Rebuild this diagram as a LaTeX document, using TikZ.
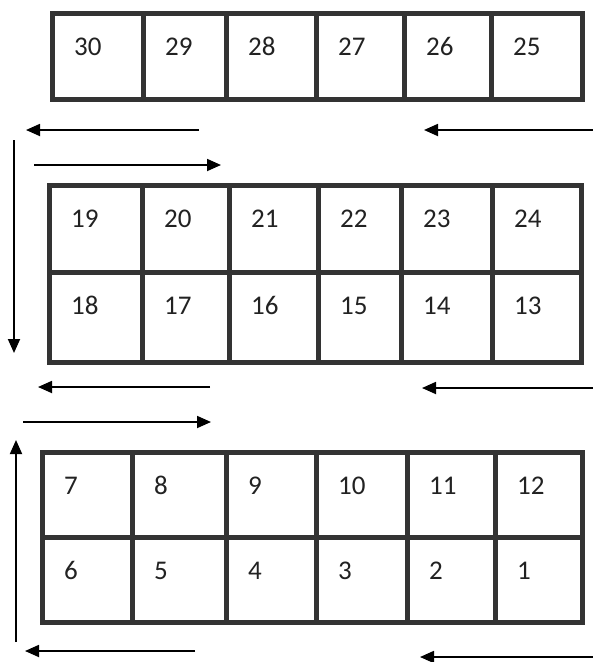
\documentclass[tikz,border=0pt]{standalone}
\usepackage{fontspec}
\setmainfont{Carlito}
\usetikzlibrary{arrows.meta,calc}
\definecolor{boxline}{HTML}{333333}
\definecolor{numtext}{HTML}{222222}
\begin{document}
\begin{tikzpicture}[x=1pt,y=-1pt,
  cell/.style={draw=boxline,line width=5pt,rectangle,inner sep=0pt,outer sep=0pt,fill=white},
  num/.style={anchor=base west,inner sep=0pt,font=\fontsize{27}{30}\selectfont,text=numtext},
  flow/.style={line width=1.8pt,-{Triangle[length=14pt,width=12pt]}}]
\useasboundingbox[fill=white] (0,0) rectangle (593,662);
% top row
\foreach \l/\r/\n in {52/143/30,143/226/29,226/316/28,316/404/27,404/491/26,491/582/25}{
  \node[cell,minimum width={(\r-\l)*1pt},minimum height=86pt] (c\n) at ({(\l+\r)/2},56) {};
}
% middle block
\foreach \l/\r/\n in {49/142/19,142/229/20,229/318/21,318/401/22,401/492/23,492/581/24}{
  \node[cell,minimum width={(\r-\l)*1pt},minimum height=87pt] (c\n) at ({(\l+\r)/2},228.5) {};
}
\foreach \l/\r/\n in {49/142/18,142/229/17,229/318/16,318/401/15,401/492/14,492/581/13}{
  \node[cell,minimum width={(\r-\l)*1pt},minimum height=90pt] (c\n) at ({(\l+\r)/2},317) {};
}
% bottom block
\foreach \l/\r/\n in {42/132/7,132/226/8,226/316/9,316/407/10,407/495/11,495/582/12}{
  \node[cell,minimum width={(\r-\l)*1pt},minimum height=85pt] (c\n) at ({(\l+\r)/2},494.5) {};
}
\foreach \l/\r/\n in {42/132/6,132/226/5,226/316/4,316/407/3,407/495/2,495/582/1}{
  \node[cell,minimum width={(\r-\l)*1pt},minimum height=85pt] (c\n) at ({(\l+\r)/2},579.5) {};
}
% numbers
\foreach \n in {1,...,30}{
  \node[num] (t\n) at ($(c\n.north west)+(22,42)$) {\n};
}
% arrow end points
\coordinate (a1s) at (199,130); \coordinate (a1e) at (26,130);
\coordinate (a2s) at (593,130); \coordinate (a2e) at (424,130);
\coordinate (a3s) at (34,165);  \coordinate (a3e) at (221,165);
\coordinate (a4s) at (14,140);  \coordinate (a4e) at (14,353);
\coordinate (a5s) at (210,387); \coordinate (a5e) at (38,387);
\coordinate (a6s) at (593,388); \coordinate (a6e) at (422,388);
\coordinate (a7s) at (23,422);  \coordinate (a7e) at (211,422);
\coordinate (a8s) at (16,642);  \coordinate (a8e) at (16,440);
\coordinate (a9s) at (195,651); \coordinate (a9e) at (25,651);
\coordinate (a10s) at (593,657); \coordinate (a10e) at (420,657);
\foreach \i in {1,...,10}{
  \draw[flow] (a\i s) -- (a\i e);
}
\end{tikzpicture}
\end{document}
